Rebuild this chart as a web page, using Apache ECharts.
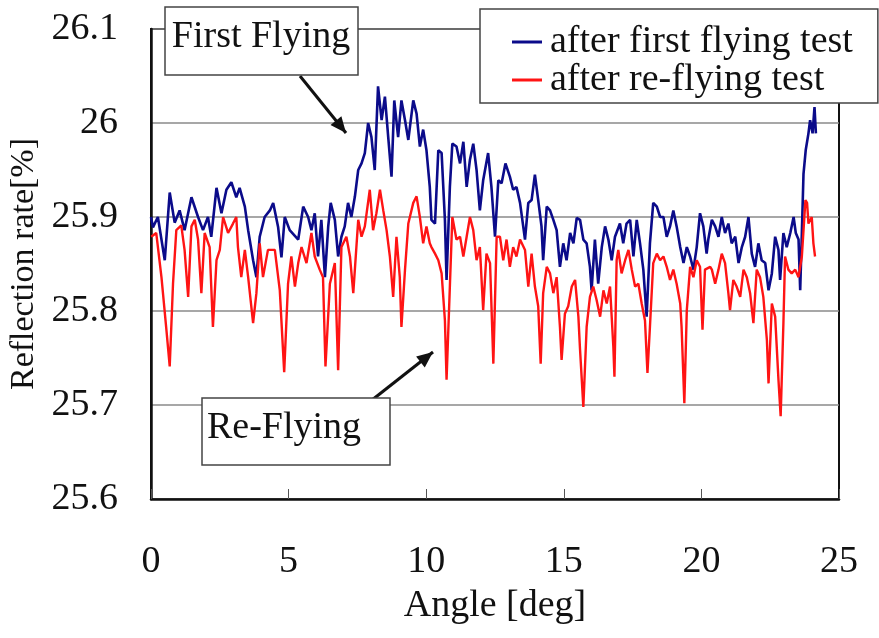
<!DOCTYPE html>
<html>
<head>
<meta charset="utf-8">
<script src="https://cdn.jsdelivr.net/npm/echarts@6/dist/echarts.min.js"></script>
<style>html,body{margin:0;padding:0;background:#fff}#c{width:879px;height:638px}</style>
</head>
<body>
<div id="c"></div>
<script>
const xTicks = [0, 5, 10, 15, 20, 25];
const yTicks = [25.6, 25.7, 25.8, 25.9, 26.0, 26.1];
const seriesNames = ['after first flying test', 'after re-flying test'];

const blueAngle = [0,0.07,0.25,0.5,0.68,0.86,1.04,1.22,1.47,1.71,1.89,2.07,2.19,2.38,2.56,2.74,2.92,3.1,3.22,3.41,3.53,3.71,3.83,3.95,4.13,4.32,4.44,4.62,4.74,4.86,5.04,
5.35,5.53,5.71,5.83,5.95,6.07,6.19,6.32,6.44,6.53,6.68,6.8,6.92,7.04,7.16,7.28,7.41,7.53,7.65,7.77,7.89,8.01,8.13,8.25,8.38,8.5,8.62,8.74,8.84,8.98,9.1,9.23,9.35,9.53,9.65,9.77,9.89,10.01,10.13,
10.19,10.32,10.44,10.56,10.68,10.74,10.86,10.95,11.1,11.23,11.35,11.47,11.59,11.71,11.83,11.95,12.07,12.25,12.37,12.5,12.62,12.74,12.88,13.04,13.16,13.28,13.41,13.59,13.71,13.83,13.95,14.07,14.19,14.25,14.38,14.5,14.62,14.74,14.86,14.98,15.1,15.23,
15.35,15.47,15.59,15.71,15.83,15.95,16.01,16.13,16.25,16.38,16.5,16.62,16.74,16.86,17.04,17.16,17.28,17.41,17.53,17.65,17.77,17.89,18.01,18.13,18.25,18.38,18.5,18.62,18.74,18.86,18.98,19.1,19.23,19.35,19.47,19.59,19.71,19.83,19.95,20.07,20.19,
20.25,20.38,20.5,20.62,20.74,20.86,20.98,21.1,21.23,21.35,21.47,21.59,21.71,21.83,21.95,22.07,22.19,22.32,22.44,22.56,22.68,22.8,22.86,22.98,23.1,23.23,23.35,23.43,23.53,23.59,23.65,23.71,23.79,23.89,23.95,24.04,24.11,24.16];
const blueValue = [25.900,25.889,25.900,25.854,25.926,25.894,25.907,25.886,25.921,25.900,25.886,25.900,25.879,25.931,25.904,25.929,25.937,25.921,25.931,25.911,25.886,25.854,25.836,25.879,25.900,25.907,25.915,25.889,25.857,25.900,25.886,
25.876,25.911,25.900,25.886,25.904,25.858,25.897,25.836,25.890,25.915,25.897,25.858,25.879,25.890,25.915,25.900,25.922,25.950,25.957,25.968,26.000,25.985,25.950,26.039,26.003,26.028,25.985,25.943,26.024,25.985,26.024,26.003,25.982,26.024,26.010,25.975,25.993,25.971,25.932,
25.897,25.893,25.971,25.968,25.897,25.833,25.932,25.978,25.975,25.957,25.980,25.932,25.961,25.978,25.950,25.907,25.939,25.968,25.932,25.879,25.939,25.936,25.957,25.943,25.929,25.932,25.915,25.876,25.915,25.918,25.945,25.918,25.890,25.854,25.911,25.907,25.897,25.886,25.847,25.872,25.854,25.883,
25.872,25.899,25.897,25.876,25.872,25.847,25.822,25.876,25.829,25.868,25.890,25.876,25.854,25.879,25.893,25.872,25.893,25.897,25.858,25.897,25.872,25.844,25.794,25.872,25.915,25.911,25.900,25.900,25.879,25.890,25.907,25.890,25.868,25.851,25.868,25.858,25.844,25.868,25.904,25.890,25.861,
25.876,25.897,25.890,25.879,25.900,25.883,25.893,25.872,25.879,25.851,25.868,25.879,25.900,25.861,25.847,25.872,25.854,25.851,25.822,25.840,25.879,25.865,25.833,25.883,25.868,25.883,25.900,25.883,25.876,25.822,25.883,25.946,25.971,25.989,26.003,25.989,26.017,25.989];

const redAngle = [0.01,0.19,0.38,0.56,0.68,0.8,0.92,1.1,1.22,1.35,1.47,1.59,1.71,1.83,1.95,2.13,2.25,2.38,2.5,2.62,2.8,2.98,3.1,3.16,3.28,3.41,3.53,3.71,3.83,3.95,4.07,4.25,4.5,4.68,4.84,4.98,
5.1,5.23,5.35,5.47,5.65,5.83,5.95,6.13,6.25,6.34,6.5,6.68,6.8,6.92,7.1,7.23,7.35,7.53,7.65,7.77,7.95,8.07,8.19,8.32,8.44,8.56,8.68,8.8,8.92,9.04,9.1,9.23,9.35,9.53,9.65,9.77,9.89,10.01,10.13,
10.19,10.32,10.44,10.56,10.68,10.74,10.86,10.95,11.1,11.23,11.35,11.47,11.59,11.71,11.83,11.95,12.07,12.19,12.32,12.44,12.56,12.68,12.8,12.92,13.04,13.16,13.28,13.41,13.59,13.71,13.83,13.95,14.07,14.16,14.25,14.38,14.5,14.62,14.74,14.86,14.92,15.04,15.16,
15.29,15.41,15.53,15.59,15.71,15.83,15.95,16.07,16.19,16.32,16.44,16.56,16.68,16.8,16.84,16.92,16.98,17.1,17.23,17.35,17.47,17.59,17.71,17.83,17.95,18.04,18.13,18.25,18.38,18.5,18.62,18.74,18.86,18.98,19.1,19.23,19.28,19.38,19.47,19.59,19.71,19.83,19.95,20.04,20.13,20.32,
20.38,20.5,20.62,20.74,20.86,20.98,21.04,21.16,21.28,21.41,21.53,21.65,21.77,21.89,22.01,22.13,22.25,22.38,22.44,22.56,22.68,22.8,22.88,22.98,23.04,23.16,23.28,23.41,23.53,23.65,23.78,23.84,23.89,24.01,24.07,24.13];
const redValue = [25.879,25.883,25.836,25.780,25.741,25.829,25.886,25.891,25.865,25.815,25.890,25.897,25.876,25.819,25.883,25.868,25.783,25.854,25.865,25.900,25.883,25.893,25.900,25.868,25.836,25.865,25.836,25.787,25.819,25.872,25.836,25.865,25.865,25.822,25.735,25.829,
25.858,25.826,25.851,25.868,25.851,25.883,25.858,25.844,25.836,25.741,25.829,25.851,25.737,25.868,25.879,25.858,25.819,25.897,25.879,25.890,25.929,25.886,25.904,25.929,25.907,25.886,25.858,25.815,25.879,25.836,25.783,25.844,25.893,25.915,25.922,25.900,25.872,25.890,25.872,
25.868,25.861,25.854,25.840,25.790,25.727,25.826,25.900,25.876,25.879,25.858,25.879,25.900,25.886,25.854,25.868,25.801,25.861,25.851,25.744,25.879,25.879,25.854,25.876,25.847,25.868,25.858,25.876,25.865,25.826,25.861,25.826,25.805,25.744,25.819,25.847,25.840,25.819,25.836,25.783,25.748,25.797,25.805,
25.826,25.833,25.794,25.759,25.698,25.783,25.815,25.826,25.812,25.794,25.822,25.808,25.826,25.762,25.730,25.854,25.865,25.840,25.854,25.865,25.844,25.826,25.829,25.808,25.790,25.734,25.783,25.851,25.861,25.854,25.858,25.847,25.833,25.844,25.829,25.808,25.783,25.702,25.801,25.847,25.836,25.854,25.847,25.780,25.844,25.847,
25.844,25.829,25.844,25.861,25.851,25.819,25.801,25.833,25.826,25.815,25.844,25.836,25.819,25.787,25.844,25.836,25.815,25.769,25.723,25.808,25.794,25.727,25.688,25.787,25.858,25.844,25.840,25.844,25.836,25.858,25.918,25.915,25.893,25.900,25.872,25.858];

const FONT = '"Liberation Serif", "Times New Roman", serif';
const chart = echarts.init(document.getElementById('c'), null, {renderer: 'canvas'});

function pairs(xs, ys) { return xs.map((x, i) => [x, ys[i]]); }

function arrowHead(tip, from, len, half) {
  const dx = tip[0] - from[0], dy = tip[1] - from[1];
  const L = Math.hypot(dx, dy), ux = dx / L, uy = dy / L;
  const bx = tip[0] - ux * len, by = tip[1] - uy * len;
  return [tip, [bx - uy * half, by + ux * half], [bx + uy * half, by - ux * half]];
}

const a1from = [300, 76], a1tip = [346, 133];
const a2from = [372, 400], a2tip = [433, 352];

chart.setOption({
  animation: false,
  backgroundColor: '#fff',
  textStyle: {fontFamily: FONT},
  grid: {left: 151, right: 40, top: 29, bottom: 139, show: true, borderColor: '#111', borderWidth: 2, backgroundColor: 'transparent', outerBoundsMode: 'none'},
  legend: {
    orient: 'vertical', left: 480, top: 9,
    padding: [14, 25, 4, 32],
    backgroundColor: '#fff', borderColor: '#444', borderWidth: 1.5, borderRadius: 0,
    itemWidth: 30, itemHeight: 3, itemGap: 0,
    textStyle: {fontFamily: FONT, fontSize: 38, color: '#111', lineHeight: 32, padding: [0, 0, 0, 3]},
    data: [{name: seriesNames[0], icon: 'rect'}, {name: seriesNames[1], icon: 'rect'}]
  },
  xAxis: {
    type: 'value', min: xTicks[0], max: xTicks[xTicks.length - 1], interval: 5,
    name: 'Angle [deg]', nameLocation: 'middle', nameGap: 88,
    nameTextStyle: {fontFamily: FONT, fontSize: 38, color: '#111'},
    axisLine: {show: true, onZero: false, lineStyle: {color: '#111', width: 2.5}},
    axisTick: {show: true, inside: true, length: 10, lineStyle: {color: '#555', width: 1}},
    axisLabel: {fontFamily: FONT, fontSize: 38, color: '#111', margin: 44},
    splitLine: {show: false}
  },
  yAxis: {
    type: 'value', min: yTicks[0], max: yTicks[yTicks.length - 1], interval: 0.1,
    name: 'Reflection rate[%]', nameLocation: 'middle', nameGap: 102, nameRotate: 90,
    nameTextStyle: {fontFamily: FONT, fontSize: 34, color: '#111'},
    axisLine: {show: true, lineStyle: {color: '#111', width: 2.5}},
    axisTick: {show: false},
    axisLabel: {fontFamily: FONT, fontSize: 38, color: '#111', margin: 33, formatter: v => String(+v.toFixed(1))},
    splitLine: {show: true, lineStyle: {color: '#8a8a8a', width: 1.5}}
  },
  series: [
    {name: seriesNames[0], type: 'line', data: pairs(blueAngle, blueValue), showSymbol: false, color: '#0b0b8a', lineStyle: {width: 2.6, color: '#0b0b8a'}},
    {name: seriesNames[1], type: 'line', data: pairs(redAngle, redValue), showSymbol: false, color: '#ff1414', lineStyle: {width: 2.4, color: '#ff1414'}}
  ],
  graphic: [
    {type: 'line', shape: {x1: a1from[0], y1: a1from[1], x2: a1tip[0], y2: a1tip[1]}, style: {stroke: '#111', lineWidth: 3}, z: 100},
    {type: 'polygon', shape: {points: arrowHead(a1tip, a1from, 16, 7)}, style: {fill: '#111'}, z: 100},
    {type: 'line', shape: {x1: a2from[0], y1: a2from[1], x2: a2tip[0], y2: a2tip[1]}, style: {stroke: '#111', lineWidth: 3}, z: 100},
    {type: 'polygon', shape: {points: arrowHead(a2tip, a2from, 16, 7)}, style: {fill: '#111'}, z: 100},
    {type: 'rect', shape: {x: 165, y: 7, width: 193, height: 68}, style: {fill: '#fff', stroke: '#444', lineWidth: 1.5}, z: 100},
    {type: 'text', x: 261, y: 37, style: {text: 'First Flying', font: '38px ' + FONT, fill: '#111', align: 'center', verticalAlign: 'middle'}, z: 101},
    {type: 'rect', shape: {x: 202, y: 398, width: 188, height: 67}, style: {fill: '#fff', stroke: '#444', lineWidth: 1.5}, z: 100},
    {type: 'text', x: 284, y: 428, style: {text: 'Re-Flying', font: '38px ' + FONT, fill: '#111', align: 'center', verticalAlign: 'middle'}, z: 101}
  ]
});
</script>
</body>
</html>
